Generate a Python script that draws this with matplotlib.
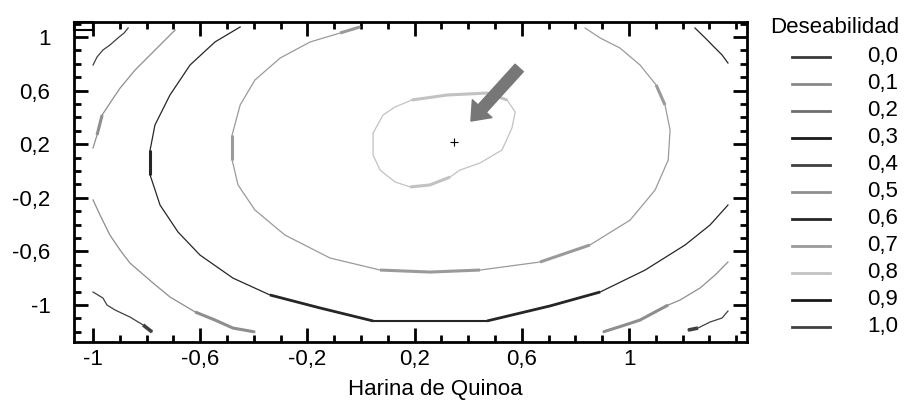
import matplotlib
matplotlib.use("Agg")
import matplotlib.pyplot as plt
from matplotlib.lines import Line2D
from matplotlib.patches import Rectangle
from matplotlib.ticker import FixedLocator, MultipleLocator

plt.rcParams['font.family'] = ['Liberation Sans', 'DejaVu Sans']

# Leyenda: niveles de deseabilidad y su tono de gris
niveles = ["0,0", "0,1", "0,2", "0,3", "0,4", "0,5", "0,6", "0,7", "0,8", "0,9", "1,0"]
colores = ["#3a3a3a", "#8a8a8a", "#6e6e6e", "#1a1a1a", "#404040", "#8e8e8e",
           "#262626", "#9a9a9a", "#c2c2c2", "#1a1a1a", "#404040"]

# Ejes
x_ticks = [-1, -0.6, -0.2, 0.2, 0.6, 1]
x_labels = ["-1", "-0,6", "-0,2", "0,2", "0,6", "1"]
y_ticks = [-1, -0.6, -0.2, 0.2, 0.6, 1]
y_labels = ["-1", "-0,6", "-0,2", "0,2", "0,6", "1"]

# Punto optimo
opt_x = [0.347]
opt_y = [0.216]

# Contornos (x = Harina de Quinoa, y = otro factor)
# nivel 0,8 (lazo interior)
c08_x = [0.190, 0.321, 0.470, 0.545, 0.575, 0.563, 0.526, 0.444, 0.369, 0.332,
         0.257, 0.183, 0.127, 0.071, 0.045, 0.045, 0.082, 0.127, 0.190]
c08_y = [0.530, 0.567, 0.582, 0.530, 0.440, 0.321, 0.157, 0.060, 0.007, -0.045,
         -0.104, -0.119, -0.082, 0.007, 0.119, 0.284, 0.418, 0.478, 0.530]

# nivel 0,7
c07_x = [-0.004, -0.078, -0.190, -0.302, -0.396, -0.451, -0.481, -0.481, -0.459,
         -0.396, -0.284, -0.116, 0.071, 0.257, 0.444, 0.668, 0.854, 1.004, 1.097,
         1.146, 1.153, 1.134, 1.101, 1.041, 0.966, 0.892, 0.836]
c07_y = [1.075, 1.030, 0.963, 0.843, 0.679, 0.493, 0.269, 0.082, -0.104,
         -0.291, -0.478, -0.649, -0.739, -0.754, -0.739, -0.679, -0.552, -0.366,
         -0.142, 0.082, 0.306, 0.493, 0.642, 0.791, 0.918, 0.993, 1.067]

# nivel 0,6 (dos tramos)
c06a_x = [-0.451, -0.545, -0.638, -0.713, -0.769, -0.787, -0.787, -0.750, -0.683,
          -0.601, -0.478, -0.340, -0.153, 0.045, 0.257, 0.470, 0.705, 0.892,
          1.060, 1.209, 1.302, 1.369]
c06a_y = [1.075, 0.963, 0.791, 0.567, 0.343, 0.157, -0.030, -0.254, -0.455,
          -0.627, -0.799, -0.925, -1.022, -1.119, -1.119, -1.119, -1.007, -0.903,
          -0.739, -0.552, -0.403, -0.254]
c06b_x = [1.246, 1.284, 1.321, 1.347, 1.369]
c06b_y = [1.067, 0.993, 0.918, 0.866, 0.806]

# nivel 0,5 (tres tramos)
c05a_x = [-1.000, -0.985, -0.966, -0.929, -0.899, -0.843, -0.787, -0.731, -0.694]
c05a_y = [0.172, 0.269, 0.418, 0.530, 0.619, 0.754, 0.866, 0.978, 1.052]
c05b_x = [-1.000, -0.974, -0.937, -0.899, -0.862, -0.776, -0.713, -0.619, -0.545,
          -0.478, -0.396]
c05b_y = [-0.216, -0.328, -0.478, -0.590, -0.687, -0.836, -0.940, -1.052, -1.112,
          -1.172, -1.201]
c05c_x = [0.903, 0.996, 1.041, 1.097, 1.146, 1.190, 1.265, 1.321, 1.369]
c05c_y = [-1.201, -1.142, -1.112, -1.052, -1.000, -0.963, -0.873, -0.776, -0.679]

# nivel 0,4 (tres tramos)
c04a_x = [-1.000, -0.985, -0.963, -0.937, -0.907, -0.884, -0.869]
c04a_y = [0.791, 0.851, 0.903, 0.940, 0.993, 1.030, 1.067]
c04b_x = [-1.000, -0.963, -0.948, -0.918, -0.862, -0.813, -0.780]
c04b_y = [-0.903, -0.948, -1.000, -1.037, -1.090, -1.149, -1.201]
c04c_x = [1.220, 1.257, 1.302, 1.347, 1.369]
c04c_y = [-1.187, -1.172, -1.127, -1.097, -1.045]

tramos = [
    (8, c08_x, c08_y),
    (7, c07_x, c07_y),
    (6, c06a_x, c06a_y), (6, c06b_x, c06b_y),
    (5, c05a_x, c05a_y), (5, c05b_x, c05b_y), (5, c05c_x, c05c_y),
    (4, c04a_x, c04a_y), (4, c04b_x, c04b_y), (4, c04c_x, c04c_y),
]

# tramos que el grafico original dibuja mas gruesos (nivel, curva, desde, hasta, grosor)
gruesos = [
    (8, c08_x, c08_y, 0, 3, 2.2), (8, c08_x, c08_y, 9, 11, 2.2),
    (7, c07_x, c07_y, 0, 1, 2.2), (7, c07_x, c07_y, 6, 7, 2.2),
    (7, c07_x, c07_y, 21, 22, 2.2), (7, c07_x, c07_y, 12, 14, 2.2),
    (7, c07_x, c07_y, 15, 16, 2.2),
    (6, c06a_x, c06a_y, 5, 6, 2.2), (6, c06a_x, c06a_y, 11, 13, 2.0),
    (6, c06a_x, c06a_y, 13, 15, 1.5), (6, c06a_x, c06a_y, 15, 17, 2.0),
    (5, c05a_x, c05a_y, 1, 2, 2.2), (5, c05b_x, c05b_y, 7, 10, 2.2),
    (5, c05c_x, c05c_y, 0, 4, 2.2),
    (4, c04b_x, c04b_y, 5, 6, 2.6), (4, c04c_x, c04c_y, 0, 1, 2.6),
]

fig = plt.figure(figsize=(9.05, 4.01), dpi=100)
ax = fig.add_axes([74 / 905, 59 / 401, 673 / 905, 320 / 401])

for nivel, xs, ys in tramos:
    ax.plot(xs, ys, color=colores[nivel], lw=0.9)

for nivel, xs, ys, i0, i1, g in gruesos:
    ax.plot(xs[i0:i1 + 1], ys[i0:i1 + 1], color=colores[nivel], lw=g,
            solid_capstyle='butt')

ax.plot(opt_x, opt_y, marker='+', color='black', ms=6, mew=0.8, ls='none')

# flecha hacia el optimo
ax.annotate('', xy=(0.410, 0.373), xytext=(0.590, 0.769),
            arrowprops=dict(width=8, headwidth=19, headlength=12, shrink=0,
                            facecolor='#777777', edgecolor='#777777'))

ax.set_xlim(-1.071, 1.440)
ax.set_ylim(-1.276, 1.112)

# pequeño recuadro de la esquina
ax.add_patch(Rectangle((-1.071, 1.052), 0.071, 0.060, fill=False,
                       edgecolor='black', lw=1.5, clip_on=False))

ax.xaxis.set_major_locator(FixedLocator(x_ticks))
ax.set_xticklabels(x_labels)
ax.yaxis.set_major_locator(FixedLocator(y_ticks))
ax.set_yticklabels(y_labels)
ax.xaxis.set_minor_locator(MultipleLocator(0.1))
ax.yaxis.set_minor_locator(MultipleLocator(0.1))

ax.tick_params(which='both', direction='in', top=True, right=True, width=2)
ax.tick_params(which='major', length=10)
ax.tick_params(which='minor', length=5)
ax.tick_params(axis='x', which='major', pad=5, labelsize=16)
ax.tick_params(axis='y', which='major', pad=17, labelsize=16)
for sp in ax.spines.values():
    sp.set_linewidth(2)

ax.set_xlabel("Harina de Quinoa", fontsize=16)
ax.xaxis.set_label_coords(0.537, -0.115)

# leyenda dibujada a mano
fig.text(770 / 905, 1 - 33 / 401, "Deseabilidad", fontsize=16, ha='left', va='baseline')
for i, (lab, col) in enumerate(zip(niveles, colores)):
    yl = 57 + 27 * i
    fig.add_artist(Line2D([792 / 905, 830 / 905], [1 - yl / 401, 1 - yl / 401],
                          color=col, lw=2, transform=fig.transFigure))
    fig.text(898 / 905, 1 - (yl + 5) / 401, lab, fontsize=16, ha='right', va='baseline')

fig.savefig("out.png", dpi=100)
